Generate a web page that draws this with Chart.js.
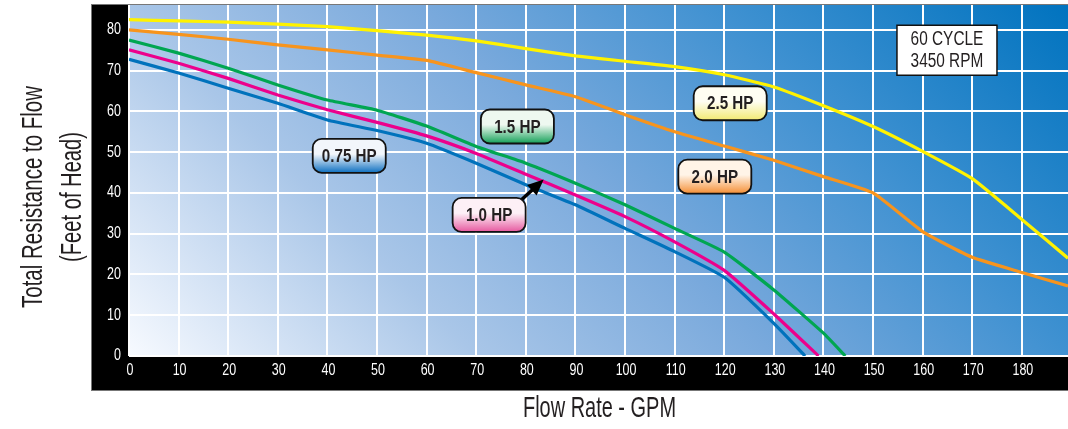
<!DOCTYPE html>
<html lang="en">
<head>
<meta charset="UTF-8">
<title>Pump Performance Curves</title>
<script src="https://cdn.jsdelivr.net/npm/chart.js"></script>
<style>
  html, body { margin: 0; padding: 0; background: #fff; }
  canvas { display: block; }
</style>
</head>
<body>
<canvas id="pumpChart" width="1068" height="429"></canvas>
<script>
// tick labels
const flowTicks = [0, 10, 20, 30, 40, 50, 60, 70, 80, 90, 100, 110, 120, 130, 140, 150, 160, 170, 180];
const headTicks = [0, 10, 20, 30, 40, 50, 60, 70, 80];

// curves (flow in GPM, head in feet)
const hp075Flow = [0, 10, 20, 30, 40, 50, 60, 70, 80, 90, 100, 110, 120, 130, 136.3];
const hp075Head = [72.8, 69.4, 65.7, 62, 57.9, 55.3, 52.2, 47.3, 42, 37.1, 31.3, 25.6, 19.3, 8, 0];

const hp10Flow = [0, 10, 20, 30, 40, 50, 60, 70, 80, 90, 100, 110, 120, 130, 139];
const hp10Head = [75.1, 71.8, 68.1, 64, 60.4, 57.3, 54, 49.7, 44.6, 39.5, 34.2, 28, 21, 10.3, 0];

const hp15Flow = [0, 10, 20, 30, 40, 50, 60, 70, 80, 90, 100, 110, 120, 130, 140, 144.4];
const hp15Head = [77.5, 74.3, 70.6, 66.5, 62.8, 60.3, 56.4, 51.4, 47.3, 42.4, 37.1, 31.3, 25.5, 16.2, 5.6, 0];

const hp20Flow = [0, 10, 20, 30, 40, 50, 60, 70, 80, 90, 100, 110, 120, 130, 140, 150, 160, 170, 180, 189.3];
const hp20Head = [80, 78.9, 77.7, 76.3, 75.1, 73.8, 72.5, 69.5, 66.5, 63.6, 59.2, 55, 51.5, 48, 44, 40, 30.5, 24.2, 20.5, 17.2];

const hp25Flow = [0, 10, 20, 30, 40, 50, 60, 70, 80, 90, 100, 110, 120, 130, 140, 150, 160, 170, 180, 189.3];
const hp25Head = [82.5, 82.2, 81.9, 81.4, 80.8, 79.8, 78.7, 77.3, 75.4, 73.6, 72.3, 71, 69, 66, 61.4, 56.3, 50.2, 43.5, 33.5, 24];

const FONT = '"Liberation Sans", Arial, sans-serif';

function pts(xs, ys) {
  return xs.map((x, i) => ({ x: x, y: ys[i] }));
}

// condensed text: draw then squeeze horizontally
function narrowText(ctx, text, x, y, size, weight, sx, align, rot) {
  ctx.save();
  ctx.font = weight + ' ' + size + 'px ' + FONT;
  ctx.translate(x, y);
  if (rot) ctx.rotate(rot);
  ctx.scale(sx, 1);
  ctx.textAlign = align || 'center';
  ctx.textBaseline = 'middle';
  ctx.fillText(text, 0, 0);
  ctx.restore();
}

function fitText(ctx, text, x, y, size, weight, width, rot) {
  ctx.save();
  ctx.font = weight + ' ' + size + 'px ' + FONT;
  const sx = width / ctx.measureText(text).width;
  ctx.restore();
  narrowText(ctx, text, x, y, size, weight, sx, 'center', rot);
}

function roundBox(ctx, x, y, w, h, r) {
  ctx.beginPath();
  ctx.moveTo(x + r, y);
  ctx.arcTo(x + w, y, x + w, y + h, r);
  ctx.arcTo(x + w, y + h, x, y + h, r);
  ctx.arcTo(x, y + h, x, y, r);
  ctx.arcTo(x, y, x + w, y, r);
  ctx.closePath();
}

// curve labels, placed in data units
const hpLabels = [
  { text: '0.75 HP', x: 44.4, y: 49.1, light: '#f2f6fb', dark: '#0d6fc0' },
  { text: '1.0 HP', x: 72.6, y: 34.6, light: '#fdf0f6', dark: '#e6589f' },
  { text: '1.5 HP', x: 78.3, y: 56.3, light: '#eef8f0', dark: '#14a058' },
  { text: '2.0 HP', x: 118.1, y: 44.0, light: '#fff4e8', dark: '#f58f35' },
  { text: '2.5 HP', x: 121.2, y: 62.0, light: '#fffef2', dark: '#f2ea72' }
];

const framePlugin = {
  id: 'frame',
  beforeDraw(chart) {
    const ctx = chart.ctx;
    const { left, top, right, bottom } = chart.chartArea;
    ctx.save();
    ctx.fillStyle = '#000';
    ctx.fillRect(left - 37, top, 37, bottom - top + 34);
    ctx.fillRect(left - 37, bottom, right - left + 37, 34);
    ctx.strokeStyle = '#777';
    ctx.lineWidth = 1;
    ctx.strokeRect(left - 37.5, top - 0.5, right - left + 38, bottom - top + 35);

    const L = ((right - left) + (bottom - top)) / 2;
    const g = ctx.createLinearGradient(left, bottom, left + L, bottom - L);
    g.addColorStop(0, '#f7faff');
    g.addColorStop(0.27, '#a9c6e8');
    g.addColorStop(0.5, '#79a9dc');
    g.addColorStop(0.73, '#3f91d1');
    g.addColorStop(1, '#0073bf');
    ctx.fillStyle = g;
    ctx.fillRect(left, top, right - left, bottom - top);
    ctx.restore();
  },
  afterDatasetsDraw(chart) {
    const ctx = chart.ctx;
    const xs = chart.scales.x, ys = chart.scales.y;
    const { left, top, right, bottom } = chart.chartArea;

    // tick labels
    ctx.save();
    ctx.fillStyle = '#fff';
    ys.ticks.forEach(t => {
      narrowText(ctx, String(t.value), left - 8, ys.getPixelForValue(t.value), 16, 'normal', 0.78, 'right');
    });
    xs.ticks.forEach(t => {
      narrowText(ctx, String(t.value), xs.getPixelForValue(t.value) + 1, bottom + 15, 16, 'normal', 0.78, 'center');
    });
    ctx.restore();

    // arrow to the 1.0 HP curve
    const tipX = xs.getPixelForValue(83.6), tipY = ys.getPixelForValue(43.3);
    const b = hpLabels[1];
    const tailX = xs.getPixelForValue(b.x) + 31, tailY = ys.getPixelForValue(b.y) - 14;
    const ang = Math.atan2(tipY - tailY, tipX - tailX);
    ctx.save();
    ctx.strokeStyle = '#000';
    ctx.fillStyle = '#000';
    ctx.lineWidth = 3.5;
    ctx.beginPath();
    ctx.moveTo(tailX, tailY);
    ctx.lineTo(tipX - 10 * Math.cos(ang), tipY - 10 * Math.sin(ang));
    ctx.stroke();
    ctx.beginPath();
    ctx.moveTo(tipX, tipY);
    ctx.lineTo(tipX - 16 * Math.cos(ang) + 7 * Math.sin(ang), tipY - 16 * Math.sin(ang) - 7 * Math.cos(ang));
    ctx.lineTo(tipX - 16 * Math.cos(ang) - 7 * Math.sin(ang), tipY - 16 * Math.sin(ang) + 7 * Math.cos(ang));
    ctx.closePath();
    ctx.fill();
    ctx.restore();

    // HP boxes
    hpLabels.forEach(l => {
      const cx = xs.getPixelForValue(l.x), cy = ys.getPixelForValue(l.y);
      const w = 73, h = 34;
      const g = ctx.createLinearGradient(0, cy - h / 2, 0, cy + h / 2);
      g.addColorStop(0, l.light);
      g.addColorStop(0.45, l.light);
      g.addColorStop(1, l.dark);
      ctx.save();
      roundBox(ctx, cx - w / 2, cy - h / 2, w, h, 9);
      ctx.fillStyle = g;
      ctx.fill();
      ctx.lineWidth = 1.8;
      ctx.strokeStyle = '#111';
      ctx.stroke();
      ctx.fillStyle = '#231f20';
      narrowText(ctx, l.text, cx, cy + 1, 19, 'bold', 0.8, 'center');
      ctx.restore();
    });

    // info box
    const ix = xs.getPixelForValue(164.9), iy = ys.getPixelForValue(75);
    ctx.save();
    ctx.fillStyle = '#fff';
    ctx.fillRect(ix - 50, iy - 25, 100, 50);
    ctx.lineWidth = 1.5;
    ctx.strokeStyle = '#111';
    ctx.strokeRect(ix - 50, iy - 25, 100, 50);
    ctx.fillStyle = '#231f20';
    narrowText(ctx, '60 CYCLE', ix, iy - 11, 20, 'normal', 0.77, 'center');
    narrowText(ctx, '3450 RPM', ix, iy + 11, 20, 'normal', 0.77, 'center');
    ctx.restore();

    // axis titles
    ctx.save();
    ctx.fillStyle = '#231f20';
    fitText(ctx, 'Flow Rate - GPM', (left + right) / 2 + 1, 409, 29, 'normal', 153, 0);
    fitText(ctx, 'Total Resistance to Flow', 34, 197, 29, 'normal', 222, -Math.PI / 2);
    fitText(ctx, '(Feet of Head)', 73, 197, 29, 'normal', 130, -Math.PI / 2);
    ctx.restore();
  }
};

const lineStyle = { borderWidth: 3.2, pointRadius: 0, tension: 0.15, fill: false };

new Chart(document.getElementById('pumpChart'), {
  type: 'line',
  data: {
    datasets: [
      Object.assign({ label: '2.5 HP', data: pts(hp25Flow, hp25Head), borderColor: '#fff200' }, lineStyle),
      Object.assign({ label: '2.0 HP', data: pts(hp20Flow, hp20Head), borderColor: '#f7941d' }, lineStyle),
      Object.assign({ label: '1.5 HP', data: pts(hp15Flow, hp15Head), borderColor: '#00a651' }, lineStyle),
      Object.assign({ label: '1.0 HP', data: pts(hp10Flow, hp10Head), borderColor: '#ec008c' }, lineStyle),
      Object.assign({ label: '0.75 HP', data: pts(hp075Flow, hp075Head), borderColor: '#0072bc' }, lineStyle)
    ]
  },
  options: {
    responsive: false,
    animation: false,
    layout: { padding: { left: 129, top: 5, right: 0, bottom: 73 } },
    plugins: {
      legend: { display: false },
      tooltip: { enabled: false }
    },
    scales: {
      x: {
        type: 'linear',
        min: 0,
        max: 189.3,
        afterBuildTicks: s => { s.ticks = flowTicks.map(v => ({ value: v })); },
        afterFit: s => { s.height = 0; },
        ticks: { display: false },
        grid: { color: '#fff', lineWidth: 2, drawTicks: false },
        border: { display: false }
      },
      y: {
        type: 'linear',
        min: 0,
        max: 86.1,
        afterBuildTicks: s => { s.ticks = headTicks.map(v => ({ value: v })); },
        afterFit: s => { s.width = 0; },
        ticks: { display: false },
        grid: { color: '#fff', lineWidth: 2, drawTicks: false },
        border: { display: false }
      }
    }
  },
  plugins: [framePlugin]
});
</script>
</body>
</html>
